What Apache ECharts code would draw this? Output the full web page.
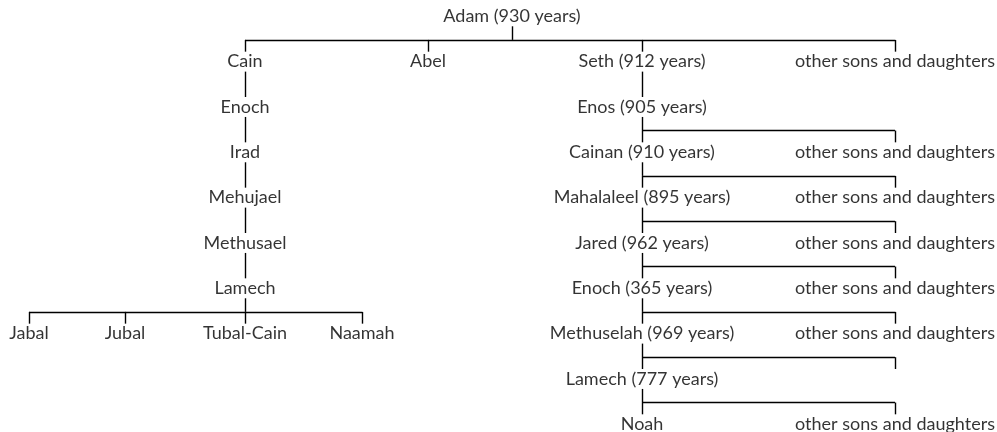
<!DOCTYPE html>
<html lang="en">
<head>
    <meta charset="UTF-8">
    <title>Adam family tree</title>
    <script src="https://cdn.jsdelivr.net/npm/echarts@6/dist/echarts.min.js"></script>
    <style>
        html, body { margin: 0; padding: 0; background: #fff; }
        #main { width: 997px; height: 432px; }
    </style>
</head>
<body>
<div id="main"></div>
<script type="text/javascript">
    // one entry per person: label, column (x), generation (y), parent index
    var labels = [
        'Adam (930 years)',
        'Cain', 'Abel', 'Seth (912 years)', 'other sons and daughters',
        'Enoch', 'Irad', 'Mehujael', 'Methusael', 'Lamech',
        'Jabal', 'Jubal', 'Tubal-Cain', 'Naamah',
        'Enos (905 years)',
        'Cainan (910 years)', 'other sons and daughters',
        'Mahalaleel (895 years)', 'other sons and daughters',
        'Jared (962 years)', 'other sons and daughters',
        'Enoch (365 years)', 'other sons and daughters',
        'Methuselah (969 years)', 'other sons and daughters',
        'Lamech (777 years)', '',
        'Noah', 'other sons and daughters'
    ];
    var columns = [
        512,
        245, 428, 642, 895,
        245, 245, 245, 245, 245,
        29, 125, 245, 362,
        642,
        642, 895,
        642, 895,
        642, 895,
        642, 895,
        642, 895,
        642, 895,
        642, 895
    ];
    var generations = [
        0,
        1, 1, 1, 1,
        2, 3, 4, 5, 6,
        7, 7, 7, 7,
        2,
        3, 3,
        4, 4,
        5, 5,
        6, 6,
        7, 7,
        8, 8,
        9, 9
    ];
    var parents = [
        -1,
        0, 0, 0, 0,
        1, 5, 6, 7, 8,
        9, 9, 9, 9,
        3,
        14, 14,
        15, 15,
        17, 17,
        19, 19,
        21, 21,
        23, 23,
        25, 25
    ];

    var gap = 0.22; // space left above/below a name, in generations

    var points = [];
    for (var i = 0; i < labels.length; i++) {
        points.push({ name: labels[i], value: [columns[i], generations[i]] });
    }

    // connectors: parent -> bus -> children
    var segs = [];
    for (var p = 0; p < labels.length; p++) {
        var kids = [];
        for (var k = 0; k < labels.length; k++) {
            if (parents[k] == p) kids.push(k);
        }
        if (kids.length == 0) continue;
        var px = columns[p], py = generations[p];
        if (kids.length == 1) {
            segs.push({ coords: [[px, py + gap], [columns[kids[0]], generations[kids[0]] - gap]] });
            continue;
        }
        var bus = py + 0.52;
        var lo = px, hi = px;
        segs.push({ coords: [[px, py + gap], [px, bus]] });
        kids.forEach(function (c) {
            lo = Math.min(lo, columns[c]);
            hi = Math.max(hi, columns[c]);
            segs.push({ coords: [[columns[c], bus], [columns[c], generations[c] - gap]] });
        });
        segs.push({ coords: [[lo, bus], [hi, bus]] });
    }

    var myChart = echarts.init(document.getElementById('main'));
    var option = {
        animation: false,
        backgroundColor: '#fff',
        grid: { left: 0, right: 0, top: 0, bottom: 0 },
        xAxis: { type: 'value', min: 0, max: 997, show: false },
        yAxis: { type: 'value', inverse: true, min: -0.36, max: 9.17, show: false },
        series: [{
            type: 'lines',
            coordinateSystem: 'cartesian2d',
            silent: true,
            lineStyle: { color: '#000', width: 1.4, opacity: 1 },
            data: segs
        }, {
            type: 'scatter',
            silent: true,
            symbolSize: 1,
            itemStyle: { color: 'rgba(0,0,0,0)' },
            label: {
                show: true,
                position: 'inside',
                formatter: '{b}',
                color: '#000',
                fontFamily: 'Lato',
                fontSize: 18
            },
            data: points
        }]
    };
    myChart.setOption(option);
</script>
</body>
</html>
